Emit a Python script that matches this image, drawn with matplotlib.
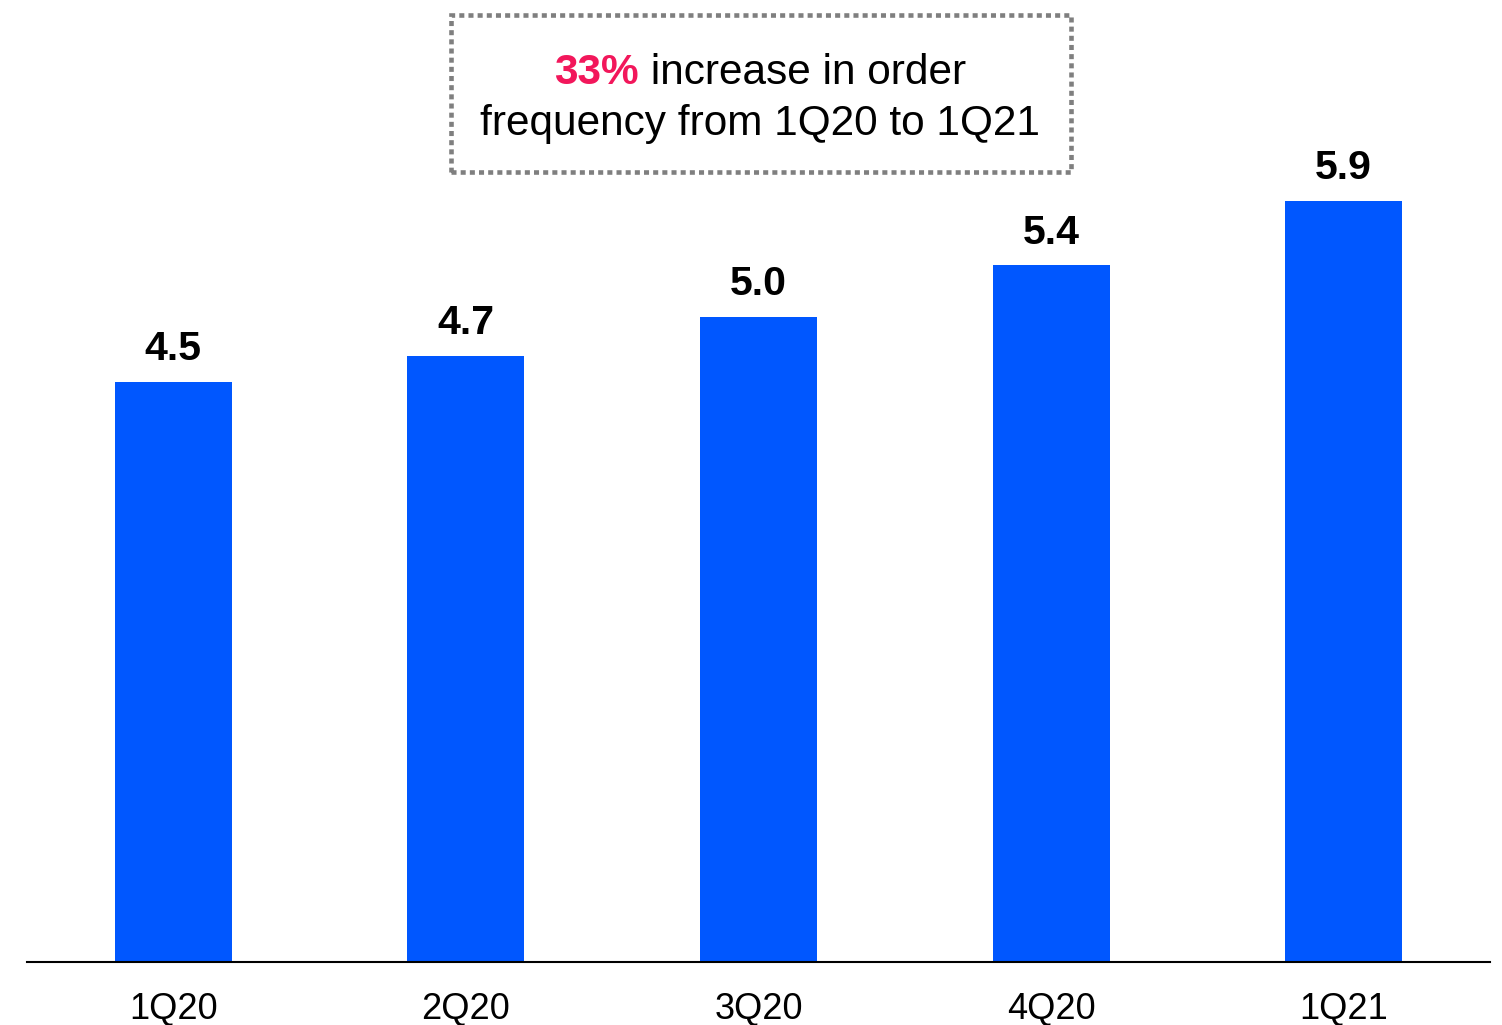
import matplotlib
matplotlib.use("Agg")
import matplotlib.pyplot as plt
from matplotlib.patches import Rectangle

plt.rcParams["font.family"] = ["Liberation Sans", "DejaVu Sans"]

quarters = ["1Q20", "2Q20", "3Q20", "4Q20", "1Q21"]
order_freq = [4.5, 4.7, 5.0, 5.4, 5.9]
increase_pct = "33%"
callout_rest = " increase in order"
callout_line2 = "frequency from 1Q20 to 1Q21"

BAR_BLUE = "#0057FF"
PINK = "#F2175B"

W, H = 1502, 1025
fig = plt.figure(figsize=(W / 100, H / 100), dpi=100)
ax = fig.add_axes([27 / W, 63 / H, (1490 - 27) / W, 1 - 63 / H])

x = range(len(quarters))
bars = ax.bar(x, order_freq, width=0.4, color=BAR_BLUE, zorder=2)

# value labels above each bar
for rect, v in zip(bars, order_freq):
    ax.annotate(f"{v:.1f}", (rect.get_x() + rect.get_width() / 2, v),
                xytext=(0, 10), textcoords="offset points",
                ha="center", va="bottom", fontsize=29.5, fontweight="bold")

ax.set_xlim(-0.5, 4.5)
ax.set_ylim(0, 962 / 129)
ax.set_xticks(list(x))
ax.set_xticklabels(quarters, fontsize=26)
ax.tick_params(axis="x", length=0, pad=21.5)
ax.set_yticks([])
for s in ["top", "left", "right"]:
    ax.spines[s].set_visible(False)
ax.spines["bottom"].set_linewidth(1.5)

# dotted callout box
box = Rectangle((451 / W, 1 - 172 / H), (1071 - 451) / W, (172 - 15) / H,
                transform=fig.transFigure, fill=False, edgecolor="#7F7F7F",
                linewidth=3.3, linestyle=(0, (1.1, 0.9)))
fig.patches.append(box)

cx = 760 / W
fs = 30.5
fig.canvas.draw()
r = fig.canvas.get_renderer()
t1 = fig.text(0, 1 - 84 / H, increase_pct, color=PINK, fontweight="bold",
              fontsize=fs, va="baseline", ha="left")
t2 = fig.text(0, 1 - 84 / H, callout_rest, color="black",
              fontsize=fs, va="baseline", ha="left")
w1 = t1.get_window_extent(r).width
w2 = t2.get_window_extent(r).width
start = cx * W - (w1 + w2) / 2
t1.set_x(start / W)
t2.set_x((start + w1) / W)
fig.text(cx, 1 - 135 / H, callout_line2, color="black", fontsize=fs,
         va="baseline", ha="center")

fig.savefig("out.png", dpi=100)
